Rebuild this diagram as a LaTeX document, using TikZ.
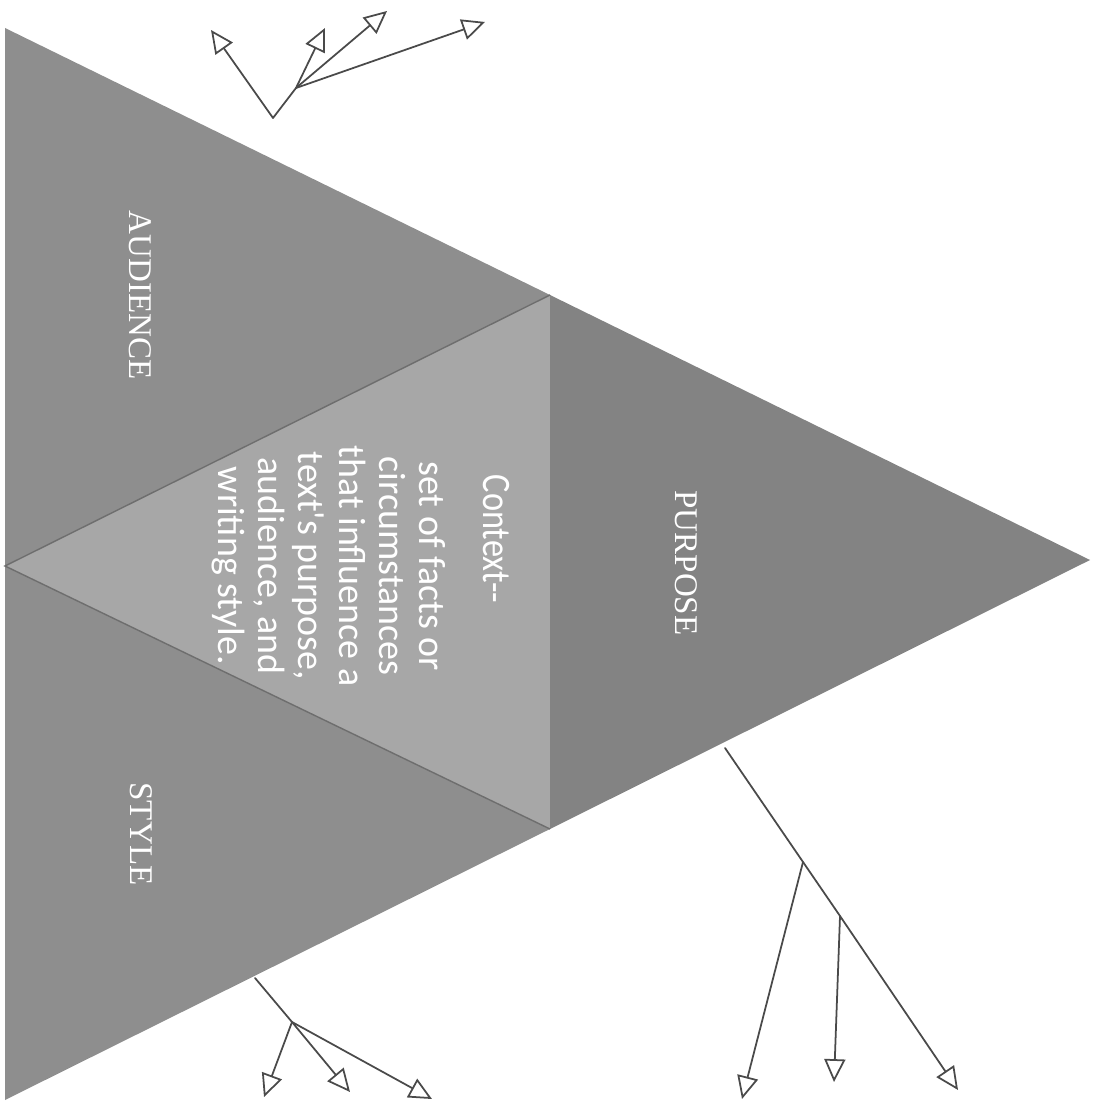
\documentclass[tikz,border=0pt]{standalone}
\usepackage{fontspec}
\setmainfont{Liberation Serif}
\newfontfamily\ctxfont{Carlito}
\usetikzlibrary{arrows.meta}
\definecolor{outergray}{HTML}{8E8E8E}
\definecolor{innergray}{HTML}{A7A7A7}
\definecolor{purposegray}{HTML}{838383}
\definecolor{inkgray}{HTML}{4A4A4A}

\begin{document}
\begin{tikzpicture}[
      x=0.01cm, y=-0.01cm,
      >={Triangle[open, length=6.5pt, width=6pt]},
      lbl/.style={rotate=-90, anchor=base, inner sep=0pt, text=white, font=\fontsize{9.4}{11}\selectfont},
      ctx/.style={rotate=-90, inner sep=0pt, text=white, align=center, font=\ctxfont\fontsize{10.8}{11.4}\selectfont},
      pen/.style={draw=inkgray, line width=0.5pt},
      ar/.style={pen, ->, line cap=round, line join=round},
      split/.style={draw=inkgray!80, line width=0.4pt}
    ]
    \useasboundingbox (0,0) rectangle (1100,1101);

    % ===== triangle corners =====
    \coordinate (tl)   at (5,28);
    \coordinate (apex) at (1090,560);
    \coordinate (bl)   at (5,1100);
    \coordinate (tm)   at (550,295);
    \coordinate (bm)   at (550,829);
    \coordinate (lm)   at (5,566);

    % ===== faces =====
    \fill[outergray]   (tl) -- (tm) -- (lm) -- cycle;
    \fill[outergray]   (lm) -- (bm) -- (bl) -- cycle;
    \fill[innergray]   (tm) -- (bm) -- (lm) -- cycle;
    \fill[purposegray] (tm) -- (apex) -- (bm) -- cycle;
    \draw[split] (tm) -- (lm) -- (bm);

    % ===== labels =====
    \node[lbl] (aud) at (129,295) {AUDIENCE};
    \node[lbl] (pur) at (675,563) {PURPOSE};
    \node[lbl] (sty) at (130,834) {STYLE};

    % ===== context text =====
    \node[ctx, anchor=base, font=\ctxfont\fontsize{11.5}{14}\selectfont] (ctxhead) at (483,539)
      {\scalebox{0.85}[1]{Context-{}-}};
    \node[ctx, anchor=north] (ctxbody) at (446,566)
      {set of facts or\\circumstances\\that influence a\\text's purpose,\\audience, and\\writing style.};

    % ===== top arrows =====
    \coordinate (troot) at (273,118);
    \coordinate (tfork) at (296,88);
    \coordinate (ttipa) at (211,30);
    \coordinate (ttipb) at (325,28);
    \coordinate (ttipc) at (387,11);
    \coordinate (ttipd) at (485,22);
    \draw[ar] (troot) -- (ttipa);
    \draw[ar] (troot) -- (tfork) -- (ttipb);
    \draw[ar] (tfork) -- (ttipc);
    \draw[ar] (tfork) -- (ttipd);

    % ===== bottom-left arrows =====
    \coordinate (lroot) at (255,978);
    \coordinate (lfork) at (292,1022);
    \coordinate (ltipa) at (264,1097);
    \coordinate (ltipb) at (350,1092);
    \coordinate (ltipc) at (432,1099);
    \draw[ar] (lroot) -- (lfork) -- (ltipa);
    \draw[ar] (lfork) -- (ltipb);
    \draw[ar] (lfork) -- (ltipc);

    % ===== bottom-right arrows =====
    \coordinate (rroot)  at (725,748);
    \coordinate (rforka) at (803,862);
    \coordinate (rforkb) at (840,916);
    \coordinate (rtipa)  at (742,1099);
    \coordinate (rtipb)  at (834,1082);
    \coordinate (rtipc)  at (958,1090);
    \draw[ar] (rroot) -- (rforka) -- (rforkb) -- (rtipc);
    \draw[ar] (rforka) -- (rtipa);
    \draw[ar] (rforkb) -- (rtipb);
\end{tikzpicture}
\end{document}
